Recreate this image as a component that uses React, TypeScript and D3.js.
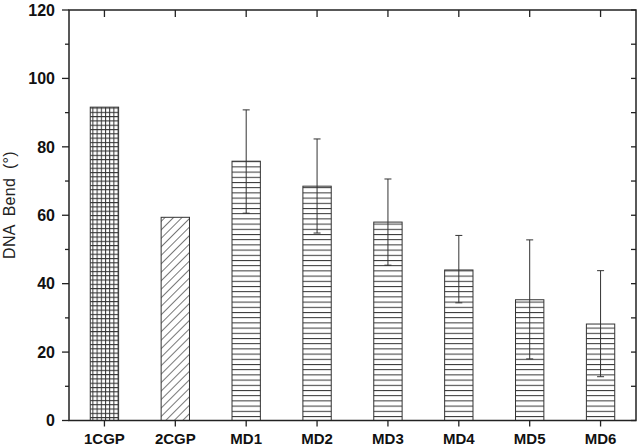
import React from 'react';
import * as d3 from 'd3';

const categories = ['1CGP', '2CGP', 'MD1', 'MD2', 'MD3', 'MD4', 'MD5', 'MD6'];
const bendValues = [91.6, 59.4, 75.8, 68.5, 58.0, 44.0, 35.3, 28.2];
const errLow = [null, null, 60.6, 54.8, 45.4, 34.4, 18.0, 12.8];
const errHigh = [null, null, 90.8, 82.3, 70.6, 54.1, 52.8, 43.8];
const fills = ['grid', 'diag', 'hline', 'hline', 'hline', 'hline', 'hline', 'hline'];
const yTicks = [0, 20, 40, 60, 80, 100, 120];
const yMinor = [10, 30, 50, 70, 90, 110];

const W = 640;
const H = 448;
const left = 69;
const right = 636;
const top = 10;
const bottom = 420.5;
const ink = '#222';

const App = () => {
  const x = d3.scaleBand<string>().domain(categories).range([left, right]).paddingInner(0.6).paddingOuter(0.3);
  const xc = d3.scaleBand<string>().domain(categories).range([left, right]);
  const y = d3.scaleLinear().domain([0, 120]).range([bottom, top]);
  const font = '"Liberation Sans", Arial, sans-serif';

  return (
    <svg width={W} height={H} style={{ position: 'absolute', left: 0, top: 0, background: '#fff' }}>
      <defs>
        <pattern id="grid" width={4.2} height={4.3} patternUnits="userSpaceOnUse">
          <path d="M0,0.5H4.2M0.5,0V4.3" stroke="#333" strokeWidth={1} fill="none" />
        </pattern>
        <pattern id="diag" width={6} height={6} patternUnits="userSpaceOnUse" patternTransform="rotate(-45)">
          <path d="M0,0.5H6" stroke="#555" strokeWidth={0.8} fill="none" />
        </pattern>
        <pattern id="hline" width={8} height={5.2} patternUnits="userSpaceOnUse">
          <path d="M0,0.5H8" stroke="#333" strokeWidth={1} fill="none" />
        </pattern>
      </defs>
      <rect x={0} y={0} width={W} height={H} fill="#fff" />

      {categories.map((c, i) => (
        <rect
          key={c}
          x={x(c)}
          y={y(bendValues[i])}
          width={x.bandwidth()}
          height={y(0) - y(bendValues[i])}
          fill={`url(#${fills[i]})`}
          stroke="#333"
          strokeWidth={1}
        />
      ))}

      {categories.map((c, i) => {
        const lo = errLow[i];
        const hi = errHigh[i];
        if (lo == null || hi == null) return null;
        const cx = (xc(c) as number) + xc.bandwidth() / 2;
        return (
          <g key={`e-${c}`} stroke="#333" strokeWidth={1}>
            <line x1={cx} x2={cx} y1={y(lo)} y2={y(hi)} />
            <line x1={cx - 3.5} x2={cx + 3.5} y1={y(lo)} y2={y(lo)} />
            <line x1={cx - 3.5} x2={cx + 3.5} y1={y(hi)} y2={y(hi)} />
          </g>
        );
      })}

      <rect x={left} y={top} width={right - left} height={bottom - top} fill="none" stroke={ink} strokeWidth={1.5} />

      {yTicks.map(t => (
        <g key={`yt-${t}`}>
          <line x1={left - 7} x2={left} y1={y(t)} y2={y(t)} stroke={ink} strokeWidth={1.3} />
          <line x1={right - 5} x2={right} y1={y(t)} y2={y(t)} stroke={ink} strokeWidth={1.3} />
          <text x={55} y={y(t)} dy="0.36em" textAnchor="end" fontFamily={font} fontWeight="bold" fontSize={16} fill="#111">
            {t}
          </text>
        </g>
      ))}
      {yMinor.map(t => (
        <g key={`ym-${t}`}>
          <line x1={left - 4} x2={left} y1={y(t)} y2={y(t)} stroke={ink} strokeWidth={1.3} />
          <line x1={right - 5} x2={right} y1={y(t)} y2={y(t)} stroke={ink} strokeWidth={1.3} />
        </g>
      ))}

      {categories.map(c => {
        const cx = (xc(c) as number) + xc.bandwidth() / 2;
        return (
          <g key={`xt-${c}`}>
            <line x1={cx} x2={cx} y1={bottom} y2={bottom + 6} stroke={ink} strokeWidth={1.3} />
            <line x1={cx} x2={cx} y1={top} y2={top + 7} stroke={ink} strokeWidth={1.3} />
            <text x={cx} y={444} textAnchor="middle" fontFamily={font} fontWeight="bold" fontSize={15} fill="#111">
              {c}
            </text>
          </g>
        );
      })}

      <text
        transform="translate(15,205) rotate(-90)"
        textAnchor="middle"
        fontFamily={font}
        fontSize={16}
        letterSpacing={0.3}
        wordSpacing={4}
        fill="#222"
      >
        DNA Bend (°)
      </text>
    </svg>
  );
};

export default App;
